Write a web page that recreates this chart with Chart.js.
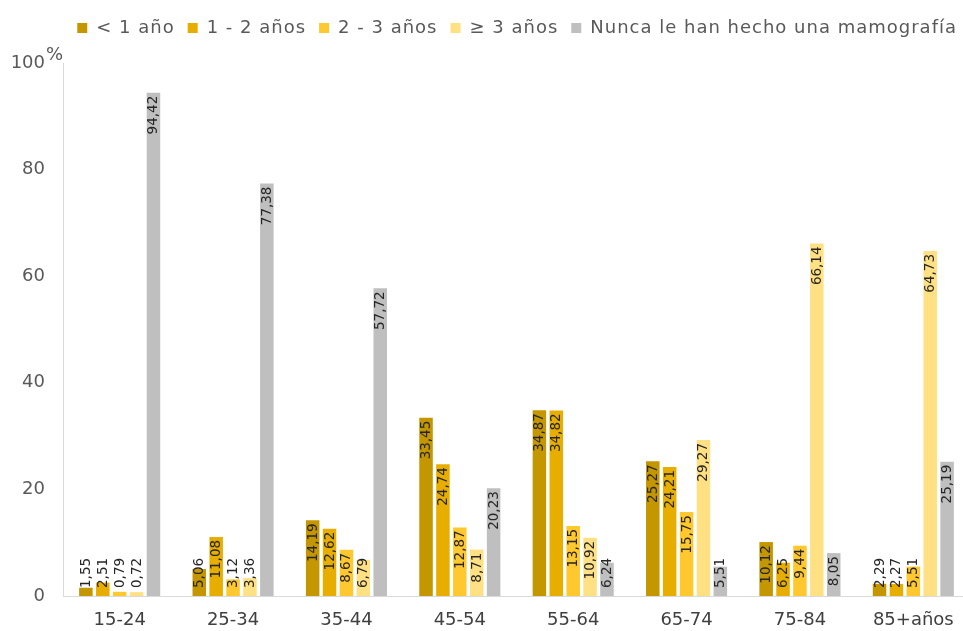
<!DOCTYPE html>
<html>
<head>
<meta charset="utf-8">
<script src="https://cdn.jsdelivr.net/npm/chart.js@4.4.1/dist/chart.umd.min.js"></script>
<style>
  html, body { margin: 0; padding: 0; background: #ffffff; overflow: hidden; }
  #wrap { width: 972px; height: 631px; position: relative; }
</style>
</head>
<body>
<div id="wrap"><canvas id="c" width="972" height="631"></canvas></div>
<script>
const categories = ['15-24', '25-34', '35-44', '45-54', '55-64', '65-74', '75-84', '85+años'];
const seriesNames = ['< 1 año', '1 - 2 años', '2 - 3 años', '\u2265 3 años', 'Nunca le han hecho una mamografía'];
const menos1 = [1.55, 5.06, 14.19, 33.45, 34.87, 25.27, 10.12, 2.29];
const de1a2 = [2.51, 11.08, 12.62, 24.74, 34.82, 24.21, 6.25, 2.27];
const de2a3 = [0.79, 3.12, 8.67, 12.87, 13.15, 15.75, 9.44, 5.51];
const mas3 = [0.72, 3.36, 6.79, 8.71, 10.92, 29.27, 66.14, 64.73];
const nunca = [94.42, 77.38, 57.72, 20.23, 6.24, 5.51, 8.05, 25.19];
const yTicks = [0, 20, 40, 60, 80, 100];
const colors = ['#C49600', '#E7AE00', '#FFC82E', '#FFE083', '#BFBFBF'];

const FONT = "'DejaVu Sans', sans-serif";
const seriesValues = [menos1, de1a2, de2a3, mas3, nunca];

const dataLabelPlugin = {
  id: 'dataLabels',
  afterDatasetsDraw(chart) {
    const ctx = chart.ctx;
    ctx.save();
    ctx.font = "13.5px " + FONT;
    ctx.fillStyle = '#262626';
    ctx.textBaseline = 'middle';
    chart.data.datasets.forEach((ds, di) => {
      const meta = chart.getDatasetMeta(di);
      meta.data.forEach((bar, i) => {
        const txt = ds.data[i].toFixed(2).replace('.', ',');
        const w = ctx.measureText(txt).width;
        const top = bar.y;
        const base = bar.base;
        let start = top + 3 + w;
        if (start > base - 8) start = base - 8;
        ctx.save();
        ctx.translate(bar.x, start);
        ctx.rotate(-Math.PI / 2);
        ctx.textAlign = 'left';
        ctx.fillText(txt, 0, 0.5);
        ctx.restore();
      });
    });
    ctx.restore();
  }
};

const percentPlugin = {
  id: 'percent',
  afterDraw(chart) {
    const ctx = chart.ctx;
    const y = chart.scales.y;
    ctx.save();
    ctx.font = "18px " + FONT;
    ctx.fillStyle = '#595959';
    ctx.textAlign = 'left';
    ctx.textBaseline = 'alphabetic';
    ctx.fillText('%', y.right - 17, y.getPixelForValue(100) - 3);
    ctx.restore();
  }
};

const legendTweakPlugin = {
  id: 'legendTweak',
  beforeInit(chart) {
    const lg = chart.legend;
    const origFit = lg.fit;
    const origDraw = lg.draw;
    lg.fit = function () {
      const ctx = chart.ctx;
      const prev = ctx.letterSpacing;
      ctx.letterSpacing = '1px';
      origFit.apply(lg, arguments);
      ctx.letterSpacing = prev || '0px';
      this.height = 57;
    };
    lg.draw = function () {
      const ctx = chart.ctx;
      const prev = ctx.letterSpacing;
      ctx.letterSpacing = '1px';
      origDraw.apply(lg, arguments);
      ctx.letterSpacing = prev || '0px';
    };
  }
};

new Chart(document.getElementById('c'), {
  type: 'bar',
  data: {
    labels: categories,
    datasets: seriesValues.map((vals, k) => ({
      label: seriesNames[k],
      data: vals,
      backgroundColor: colors[k],
      borderWidth: 0,
      categoryPercentage: 0.745,
      barPercentage: 0.8
    }))
  },
  options: {
    responsive: false,
    animation: false,
    devicePixelRatio: 1,
    layout: { padding: { top: 6, right: 2, left: 0, bottom: 0 } },
    plugins: {
      tooltip: { enabled: false },
      legend: {
        position: 'top',
        align: 'end',
        labels: {
          boxWidth: 10,
          boxHeight: 10,
          padding: 13,
          color: '#595959',
          font: { family: FONT, size: 18 }
        }
      }
    },
    scales: {
      x: {
        grid: { display: false, drawTicks: false },
        border: { display: true, color: '#D9D9D9', width: 1 },
        ticks: { color: '#404040', font: { family: FONT, size: 18 }, padding: 14, maxRotation: 0 },
        afterFit(s) { s.height = 35; }
      },
      y: {
        min: 0,
        max: 100,
        afterBuildTicks(s) { s.ticks = yTicks.map(v => ({ value: v })); },
        grid: { display: false, drawTicks: false },
        border: { display: true, color: '#D9D9D9', width: 1 },
        ticks: { color: '#595959', font: { family: FONT, size: 18 }, padding: 18 },
        afterFit(s) { s.width = 63; }
      }
    }
  },
  plugins: [legendTweakPlugin, dataLabelPlugin, percentPlugin]
});
</script>
</body>
</html>
